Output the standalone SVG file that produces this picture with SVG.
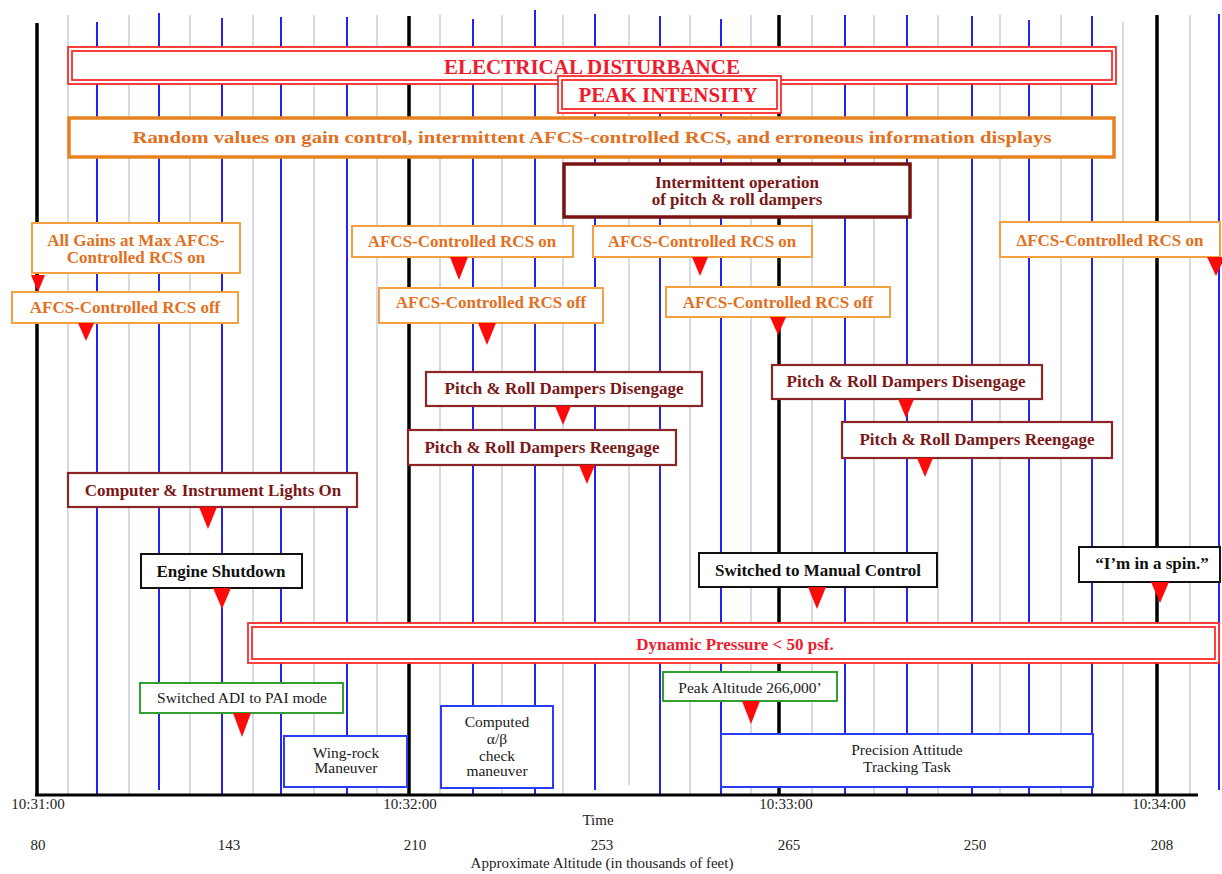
<svg xmlns="http://www.w3.org/2000/svg" width="1222" height="874" viewBox="0 0 1222 874">
<style>
text{font-family:"Liberation Serif","Times New Roman",serif;text-anchor:middle}
.b{font-weight:bold;font-size:17px}
.big{font-size:21px}
.r{font-size:15.5px;fill:#1a1a1a}
.ax{font-size:15px;fill:#222}
.red{fill:#EE1C2E}
.or{fill:#E2701E}
.mr{fill:#7A1818}
.bk{fill:#111}
.gk{stroke:#000;stroke-width:3.5}
.gb{stroke:#2424F0;stroke-width:2}
.gg{stroke:#C8CEDB;stroke-width:1.5}
.dbl{fill:none;stroke:#FF2A2A;stroke-width:1.8}
.bo{fill:#fff;stroke:#F2A040;stroke-width:2}
.bm{fill:#fff;stroke:#8B2626;stroke-width:2.2}
.bkb{fill:#fff;stroke:#111;stroke-width:2}
.bg{fill:#fff;stroke:#30A030;stroke-width:2}
.bbl{fill:#fff;stroke:#2A3CF5;stroke-width:2}
.tri{fill:#FF0A0A}
</style>
<rect width="1222" height="874" fill="#fff"/>
<g id="grid">
<line class="gg" x1="68" y1="15" x2="68" y2="795"/>
<line class="gg" x1="129" y1="15" x2="129" y2="795"/>
<line class="gg" x1="190" y1="15" x2="190" y2="795"/>
<line class="gg" x1="253" y1="15" x2="253" y2="795"/>
<line class="gg" x1="314" y1="15" x2="314" y2="795"/>
<line class="gg" x1="377" y1="15" x2="377" y2="795"/>
<line class="gg" x1="440" y1="15" x2="440" y2="795"/>
<line class="gg" x1="502" y1="15" x2="502" y2="795"/>
<line class="gg" x1="563" y1="15" x2="563" y2="795"/>
<line class="gg" x1="629" y1="15" x2="629" y2="785"/>
<line class="gg" x1="690" y1="15" x2="690" y2="795"/>
<line class="gg" x1="751" y1="15" x2="751" y2="795"/>
<line class="gg" x1="812" y1="15" x2="812" y2="795"/>
<line class="gg" x1="874" y1="15" x2="874" y2="795"/>
<line class="gg" x1="938" y1="15" x2="938" y2="795"/>
<line class="gg" x1="1000" y1="15" x2="1000" y2="795"/>
<line class="gg" x1="1061" y1="15" x2="1061" y2="795"/>
<line class="gg" x1="1123" y1="22" x2="1123" y2="795"/>
<line class="gg" x1="1190" y1="15" x2="1190" y2="795"/>
<line class="gb" x1="97" y1="22" x2="97" y2="795"/>
<line class="gb" x1="159" y1="13" x2="159" y2="790"/>
<line class="gb" x1="222" y1="18" x2="222" y2="795"/>
<line class="gb" x1="281" y1="17" x2="281" y2="795"/>
<line class="gb" x1="347" y1="17" x2="347" y2="795"/>
<line class="gb" x1="473" y1="19" x2="473" y2="795"/>
<line class="gb" x1="535" y1="10" x2="535" y2="795"/>
<line class="gb" x1="595" y1="14" x2="595" y2="790"/>
<line class="gb" x1="660" y1="16" x2="660" y2="795"/>
<line class="gb" x1="721" y1="19" x2="721" y2="795"/>
<line class="gb" x1="845" y1="15" x2="845" y2="795"/>
<line class="gb" x1="907" y1="15" x2="907" y2="795"/>
<line class="gb" x1="972" y1="16" x2="972" y2="795"/>
<line class="gb" x1="1029" y1="20" x2="1029" y2="795"/>
<line class="gb" x1="1092" y1="16" x2="1092" y2="795"/>
<line class="gb" x1="1219" y1="14" x2="1219" y2="790"/>
<line class="gk" x1="37" y1="23" x2="37" y2="796"/>
<line class="gk" x1="409" y1="16" x2="409" y2="796"/>
<line class="gk" x1="779" y1="15" x2="779" y2="796"/>
<line class="gk" x1="1157" y1="15" x2="1157" y2="796"/>
<line x1="35" y1="795" x2="1198" y2="795" stroke="#000" stroke-width="3"/>
</g>
<g id="axis">
<text class="ax" x="38" y="809">10:31:00</text>
<text class="ax" x="410" y="809">10:32:00</text>
<text class="ax" x="786" y="809">10:33:00</text>
<text class="ax" x="1159" y="809">10:34:00</text>
<text class="ax" x="598" y="825">Time</text>
<text class="ax" x="38" y="850">80</text>
<text class="ax" x="229" y="850">143</text>
<text class="ax" x="415" y="850">210</text>
<text class="ax" x="602" y="850">253</text>
<text class="ax" x="789" y="850">265</text>
<text class="ax" x="975" y="850">250</text>
<text class="ax" x="1162" y="850">208</text>
<text class="ax" x="602" y="868">Approximate Altitude (in thousands of feet)</text>
</g>
<g id="electrical-disturbance">
<rect x="68" y="47" width="1048" height="37" fill="#fff"/>
<rect class="dbl" x="68" y="47" width="1048" height="37"/>
<rect class="dbl" x="72" y="51" width="1040" height="29"/>
<text class="b big red" x="592" y="74">ELECTRICAL DISTURBANCE</text>
</g>
<g id="peak-intensity">
<rect x="558" y="76" width="223" height="37" fill="#fff"/>
<rect class="dbl" x="558" y="76" width="223" height="37"/>
<rect class="dbl" x="562" y="80" width="215" height="29"/>
<text class="b big red" x="668" y="102">PEAK INTENSITY</text>
</g>
<g id="random-values">
<rect x="69" y="118" width="1045" height="39" fill="#fff" stroke="#E8821E" stroke-width="3.5"/>
<text class="b or" x="592" y="143" textLength="919" lengthAdjust="spacingAndGlyphs">Random values on gain control, intermittent AFCS-controlled RCS, and erroneous information displays</text>
</g>
<g id="intermittent-dampers">
<rect x="564" y="164" width="346" height="53" fill="#fff" stroke="#7A1212" stroke-width="3.5"/>
<text class="b mr" x="737" y="188">Intermittent operation</text>
<text class="b mr" x="737" y="205">of pitch &amp; roll dampers</text>
</g>
<g id="all-gains">
<rect class="bo" x="32" y="223" width="208" height="50"/>
<text class="b or" x="136" y="246">All Gains at Max AFCS-</text>
<text class="b or" x="136" y="263">Controlled RCS on</text>
</g>
<g id="rcs-off-1">
<rect class="bo" x="12" y="292" width="226" height="31"/>
<text class="b or" x="125" y="313">AFCS-Controlled RCS off</text>
</g>
<g id="rcs-on-2">
<rect class="bo" x="352" y="226" width="221" height="31"/>
<text class="b or" x="462" y="247">AFCS-Controlled RCS on</text>
</g>
<g id="rcs-off-2">
<rect class="bo" x="379" y="288" width="224" height="35"/>
<text class="b or" x="491" y="308">AFCS-Controlled RCS off</text>
</g>
<g id="rcs-on-3">
<rect class="bo" x="593" y="226" width="219" height="31"/>
<text class="b or" x="702" y="247">AFCS-Controlled RCS on</text>
</g>
<g id="rcs-off-3">
<rect class="bo" x="666" y="287" width="224" height="30"/>
<text class="b or" x="778" y="308">AFCS-Controlled RCS off</text>
</g>
<g id="rcs-on-4">
<rect class="bo" x="1000" y="222" width="220" height="35"/>
<text class="b or" x="1110" y="246">ΔFCS-Controlled RCS on</text>
</g>
<g id="dampers-disengage-1">
<rect class="bm" x="426" y="372" width="276" height="34"/>
<text class="b mr" x="564" y="394">Pitch &amp; Roll Dampers Disengage</text>
</g>
<g id="dampers-reengage-1">
<rect class="bm" x="408" y="430" width="268" height="35"/>
<text class="b mr" x="542" y="453">Pitch &amp; Roll Dampers Reengage</text>
</g>
<g id="dampers-disengage-2">
<rect class="bm" x="772" y="365" width="270" height="34"/>
<text class="b mr" x="906" y="387">Pitch &amp; Roll Dampers Disengage</text>
</g>
<g id="dampers-reengage-2">
<rect class="bm" x="842" y="422" width="270" height="36"/>
<text class="b mr" x="977" y="445">Pitch &amp; Roll Dampers Reengage</text>
</g>
<g id="computer-lights">
<rect class="bm" x="68" y="473" width="289" height="34"/>
<text class="b mr" x="213" y="496">Computer &amp; Instrument Lights On</text>
</g>
<g id="engine-shutdown">
<rect class="bkb" x="141" y="554" width="161" height="34"/>
<text class="b bk" x="221" y="577">Engine Shutdown</text>
</g>
<g id="manual-control">
<rect class="bkb" x="699" y="553" width="238" height="34"/>
<text class="b bk" x="818" y="576">Switched to Manual Control</text>
</g>
<g id="spin">
<rect class="bkb" x="1079" y="547" width="141" height="35"/>
<text class="b bk" x="1152" y="569">“I’m in a spin.”</text>
</g>
<g id="dynamic-pressure">
<rect x="248" y="623" width="971" height="40" fill="#fff"/>
<rect class="dbl" x="248" y="623" width="971" height="40"/>
<rect class="dbl" x="252" y="627" width="963" height="32"/>
<text class="b red" x="735" y="650">Dynamic Pressure &lt; 50 psf.</text>
</g>
<g id="adi-pai">
<rect class="bg" x="140" y="683" width="203" height="30"/>
<text class="r" x="242" y="703">Switched ADI to PAI mode</text>
</g>
<g id="wing-rock">
<rect class="bbl" x="284" y="736" width="123" height="51"/>
<text class="r" x="346" y="758">Wing-rock</text>
<text class="r" x="346" y="773">Maneuver</text>
</g>
<g id="computed-check">
<rect class="bbl" x="441" y="706" width="112" height="82"/>
<text class="r" x="497" y="727">Computed</text>
<text class="r" x="497" y="744">α/β</text>
<text class="r" x="497" y="761">check</text>
<text class="r" x="497" y="776">maneuver</text>
</g>
<g id="peak-altitude">
<rect class="bg" x="663" y="672" width="174" height="29"/>
<text class="r" x="750" y="693">Peak Altitude 266,000’</text>
</g>
<g id="precision-tracking">
<rect class="bbl" x="721" y="734" width="372" height="53"/>
<text class="r" x="907" y="755">Precision Attitude</text>
<text class="r" x="907" y="772">Tracking Task</text>
</g>
<g id="pointers">
<polygon class="tri" points="31,275 45,275 38,292"/>
<polygon class="tri" points="78,323 94,323 86,341"/>
<polygon class="tri" points="450,257 468,257 459,280"/>
<polygon class="tri" points="478,323 496,323 487,345"/>
<polygon class="tri" points="692,257 708,257 700,276"/>
<polygon class="tri" points="770,317 786,317 778,335"/>
<polygon class="tri" points="1207,257 1225,257 1216,276"/>
<polygon class="tri" points="555,406 571,406 563,425"/>
<polygon class="tri" points="579,465 595,465 587,484"/>
<polygon class="tri" points="898,399 914,399 906,418"/>
<polygon class="tri" points="917,458 933,458 925,477"/>
<polygon class="tri" points="199,507 217,507 208,529"/>
<polygon class="tri" points="213,588 231,588 222,609"/>
<polygon class="tri" points="808,587 826,587 817,609"/>
<polygon class="tri" points="1151,582 1169,582 1160,603"/>
<polygon class="tri" points="233,713 251,713 242,737"/>
<polygon class="tri" points="742,701 760,701 751,724"/>
</g>
</svg>
